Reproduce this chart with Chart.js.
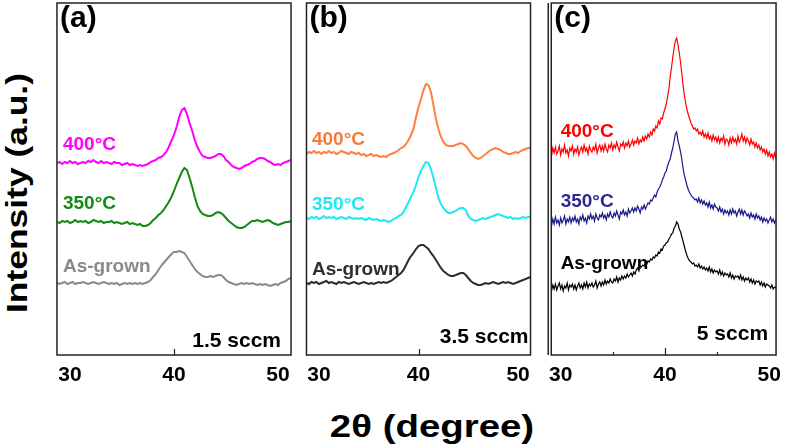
<!DOCTYPE html>
<html>
<head>
<meta charset="utf-8">
<script src="https://cdn.jsdelivr.net/npm/chart.js@4.4.0/dist/chart.umd.min.js"></script>
<style>
  body { margin: 0; width: 787px; height: 445px; overflow: hidden; position: relative; background: #fff;
         font-family: "Liberation Sans", Arial, sans-serif; }
  canvas { position: absolute; top: 0; }
  .title { position: absolute; font-weight: bold; white-space: nowrap; color: #000; }
  #ytitle { left: 17px; top: 193px; font-size: 30px; transform: translate(-50%, -50%) rotate(-90deg) scaleX(1.18); }
  #xtitle { left: 432px; top: 426px; font-size: 32px; transform: translate(-50%, -50%) scaleX(1.2); }
</style>
</head>
<body>
<canvas id="chartA"></canvas>
<canvas id="chartB"></canvas>
<canvas id="chartC"></canvas>
<div class="title" id="ytitle">Intensity (a.u.)</div>
<div class="title" id="xtitle">2θ (degree)</div>
<script>
// 2-theta angles (deg) for the (a) and (b) scans
const angles = [
  28.75,29,29.25,29.5,29.75,30,30.25,30.5,30.75,31,
  31.25,31.5,31.75,32,32.25,32.5,32.75,33,33.25,33.5,
  33.75,34,34.25,34.5,34.75,35,35.25,35.5,35.75,36,
  36.25,36.5,36.75,37,37.25,37.5,37.75,38,38.25,38.5,
  38.75,39,39.25,39.5,39.75,40,40.25,40.5,40.75,41,
  41.25,41.5,41.75,42,42.25,42.5,42.75,43,43.25,43.5,
  43.75,44,44.25,44.5,44.75,45,45.25,45.5,45.75,46,
  46.25,46.5,46.75,47,47.25,47.5,47.75,48,48.25,48.5,
  48.75,49,49.25,49.5,49.75,50,50.25,50.5,50.75,51,
  51.25,51.5
];

// (a) 1.5 sccm - stacked intensities (a.u.)
const a400 = [
  192,193,191,193,192,194,192,193,191,192,
  193,192,194,193,195,193,192,194,192,193,
  192,191,193,192,192,190,191,192,190,191,
  190,189,190,189,190,191,193,194,195,197,
  198,200,203,208,214,220,228,238,245,247,
  241,232,224,215,208,203,199,198,197,197,
  198,199,201,201,199,195,193,190,188,187,
  186,187,189,190,191,193,194,196,197,197,
  196,194,193,191,190,191,190,192,193,194,
  195,195
];
const a350 = [
  133,132,134,133,134,132,133,135,133,134,
  133,134,132,133,135,134,133,134,132,133,
  133,134,132,133,132,131,132,133,131,132,
  131,130,131,129,129,130,132,135,137,140,
  142,145,149,153,158,164,171,177,183,187,
  185,177,168,158,149,144,141,140,139,139,
  140,142,143,142,140,137,134,132,130,128,
  127,127,128,130,132,134,134,135,134,133,
  134,135,134,132,131,130,131,132,133,133,
  134,134
];
const aGrown = [
  72,71,72,73,71,72,73,71,72,72,
  73,72,71,72,73,72,71,72,73,72,
  71,72,71,72,70,71,72,71,72,71,
  72,71,72,71,72,73,75,78,81,85,
  89,92,95,98,101,103,103,104,103,102,
  98,94,90,86,83,81,79,78,78,79,
  78,79,80,80,78,75,73,72,71,70,
  71,72,71,72,71,72,71,70,71,70,
  71,70,69,70,71,70,72,73,74,76,
  77,77
];

// (b) 3.5 sccm
const b400 = [
  201,203,202,204,202,203,201,203,202,204,
  202,203,201,202,204,203,202,201,203,202,
  201,202,200,201,199,200,201,199,200,199,
  198,199,198,200,201,202,203,205,207,208,
  211,215,220,226,238,248,256,265,271,270,
  263,250,236,226,218,213,210,209,209,209,
  210,211,212,211,209,206,202,199,197,196,
  197,199,201,203,205,206,207,206,205,203,
  202,201,201,202,203,202,204,205,206,207,
  207,207
];
const b350 = [
  137,136,138,137,138,136,137,139,137,138,
  137,138,136,137,138,137,136,138,137,136,
  137,136,137,136,135,137,136,135,136,135,
  134,135,134,133,134,136,137,139,140,143,
  148,153,158,163,170,178,184,189,193,192,
  186,177,167,157,151,147,144,142,142,143,
  144,146,147,147,145,139,136,135,134,135,
  136,137,136,137,138,139,140,141,140,139,
  138,137,138,136,137,136,137,138,137,138,
  138,138
];
const bGrown = [
  72,71,73,72,73,71,72,73,74,72,
  73,72,71,73,72,73,72,71,72,73,
  72,71,72,73,72,71,72,71,72,73,
  72,73,72,73,74,76,78,80,82,85,
  90,95,99,102,106,109,110,110,108,106,
  102,99,95,91,87,84,82,80,79,79,
  80,81,82,82,80,77,74,72,71,70,
  70,71,72,71,72,73,72,71,72,73,
  72,73,72,71,72,73,74,75,76,77,
  78,78
];

// (c) 5 sccm - finer, noisier scan (one row per degree)
const cAngles = [
  29,29.125,29.25,29.375,29.5,29.625,29.75,29.875,
  30,30.125,30.25,30.375,30.5,30.625,30.75,30.875,
  31,31.125,31.25,31.375,31.5,31.625,31.75,31.875,
  32,32.125,32.25,32.375,32.5,32.625,32.75,32.875,
  33,33.125,33.25,33.375,33.5,33.625,33.75,33.875,
  34,34.125,34.25,34.375,34.5,34.625,34.75,34.875,
  35,35.125,35.25,35.375,35.5,35.625,35.75,35.875,
  36,36.125,36.25,36.375,36.5,36.625,36.75,36.875,
  37,37.125,37.25,37.375,37.5,37.625,37.75,37.875,
  38,38.125,38.25,38.375,38.5,38.625,38.75,38.875,
  39,39.125,39.25,39.375,39.5,39.625,39.75,39.875,
  40,40.125,40.25,40.375,40.5,40.625,40.75,40.875,
  41,41.125,41.25,41.375,41.5,41.625,41.75,41.875,
  42,42.125,42.25,42.375,42.5,42.625,42.75,42.875,
  43,43.125,43.25,43.375,43.5,43.625,43.75,43.875,
  44,44.125,44.25,44.375,44.5,44.625,44.75,44.875,
  45,45.125,45.25,45.375,45.5,45.625,45.75,45.875,
  46,46.125,46.25,46.375,46.5,46.625,46.75,46.875,
  47,47.125,47.25,47.375,47.5,47.625,47.75,47.875,
  48,48.125,48.25,48.375,48.5,48.625,48.75,48.875,
  49,49.125,49.25,49.375,49.5,49.625,49.75,49.875,
  50,50.125,50.25,50.375,50.5,50.625,50.75,50.875
];
const c400 = [
  205,199,207,202,208,201,204,209,
  200,206,203,210,202,205,199,207,
  204,209,201,206,203,208,200,205,
  208,203,210,204,207,201,209,205,
  203,208,205,211,202,207,210,204,
  209,204,211,206,203,210,207,212,
  205,210,207,213,208,204,211,209,
  213,207,212,209,214,208,211,215,
  210,214,212,217,211,215,213,218,
  214,219,216,221,218,223,220,226,
  224,229,227,234,231,237,236,242,
  246,251,258,266,278,287,298,307,
  314,317,310,302,292,281,268,259,
  251,245,240,236,232,229,226,227,
  224,226,221,223,220,224,218,221,
  217,222,216,219,214,220,215,218,
  213,218,212,217,214,219,211,216,
  215,210,217,212,218,213,216,211,
  219,213,216,221,214,218,212,217,
  214,210,216,211,213,208,212,207,
  210,205,208,203,206,201,205,199,
  203,198,201,196,202,197,200,199
];
const c350 = [
  134,129,136,131,138,132,135,130,
  137,132,135,139,131,136,133,138,
  132,137,134,139,133,136,131,138,
  135,140,134,137,132,139,136,141,
  136,139,134,141,137,135,140,138,
  142,137,140,135,141,138,143,139,
  137,142,139,144,140,136,143,141,
  145,140,143,139,146,142,144,147,
  143,147,144,149,146,142,148,146,
  150,146,149,152,151,155,154,157,
  160,158,163,166,168,171,175,178,
  182,184,189,193,196,202,207,214,
  221,223,214,209,203,195,186,179,
  174,169,165,162,160,158,157,155,
  156,153,157,152,155,151,154,150,
  152,148,153,147,150,146,151,148,
  147,144,148,143,146,141,145,142,
  144,140,145,141,146,142,144,139,
  143,146,141,145,140,144,142,139,
  141,137,142,138,140,136,141,137,
  139,135,138,133,137,134,136,132,
  135,138,133,136,132,135,134,133
];
const cGrown = [
  68,64,70,66,71,65,69,72,
  66,70,64,69,67,72,65,70,
  68,71,66,70,65,69,72,67,
  70,66,72,68,73,67,71,69,
  72,68,70,74,67,71,73,69,
  73,70,75,71,74,72,76,73,
  72,76,74,78,73,77,75,79,
  76,79,77,81,78,80,82,79,
  83,81,85,87,84,89,88,90,
  89,92,91,94,93,96,95,98,
  97,100,99,103,102,106,105,109,
  110,112,113,116,118,121,122,127,
  129,133,131,126,123,118,113,108,
  103,99,96,94,93,91,92,89,
  90,88,91,87,89,86,88,85,
  87,84,88,83,86,82,85,83,
  84,81,85,80,83,79,82,80,
  81,78,82,77,80,76,79,78,
  79,76,80,75,78,74,77,75,
  77,73,76,72,75,71,74,73,
  74,70,73,69,72,68,71,70,
  69,67,70,66,68,67,69,66
];

const tickValues = [30, 40, 50];
const seriesNames = ['400°C', '350°C', 'As-grown'];
const panelLetters = ['(a)', '(b)', '(c)'];
const flowLabels = ['1.5 sccm', '3.5 sccm', '5 sccm'];

const FONT = '"Liberation Sans", Arial, sans-serif';

const decor = {
  id: 'decor',
  afterDatasetsDraw(chart, args, o) {
    const { ctx, chartArea: a, scales: { x, y } } = chart;
    ctx.save();
    ctx.strokeStyle = '#222';
    ctx.lineWidth = 1.5;
    ctx.strokeRect(a.left, a.top, a.width, a.height);
    if (o.doubleLeft) {
      ctx.beginPath(); ctx.moveTo(a.left - 3, a.top); ctx.lineTo(a.left - 3, a.bottom); ctx.stroke();
    }
    // inner tick marks
    ctx.lineWidth = 1.2;
    o.marks.forEach(m => {
      const px = Math.round(x.getPixelForValue(m.v)) + 0.5;
      ctx.beginPath(); ctx.moveTo(px, a.bottom); ctx.lineTo(px, a.bottom - m.len); ctx.stroke();
    });
    // curve labels
    ctx.font = 'bold 19px ' + FONT;
    ctx.textBaseline = 'middle';
    ctx.textAlign = 'left';
    o.tags.forEach((t, i) => {
      ctx.fillStyle = o.tagColors[i];
      ctx.fillText(seriesNames[i], x.getPixelForValue(o.tagX), y.getPixelForValue(t));
    });
    ctx.fillStyle = '#000';
    ctx.textBaseline = 'alphabetic';
    ctx.font = 'bold 30px ' + FONT;
    ctx.fillText(panelLetters[o.idx], a.left + 3, a.top + 24);
    ctx.font = 'bold 21px ' + FONT;
    ctx.textAlign = 'right';
    ctx.fillText(flowLabels[o.idx], a.right - o.flowInset, a.bottom - o.flowLift);
    ctx.restore();
  }
};

function makePanel(id, idx, geom, xs, series, colors, widths, deco) {
  const PAD = 6;
  const cv = document.getElementById(id);
  cv.width = geom.right - geom.left + 2 * PAD;
  cv.height = 400;
  cv.style.left = (geom.left - PAD) + 'px';
  new Chart(cv, {
    type: 'line',
    data: {
      datasets: series.map((s, i) => ({
        label: seriesNames[i],
        data: xs.map((ang, k) => ({ x: ang, y: s[k] })),
        borderColor: colors[i],
        borderWidth: widths,
        pointRadius: 0,
        tension: 0,
        fill: false
      }))
    },
    options: {
      responsive: false,
      animation: false,
      devicePixelRatio: 1,
      layout: { padding: { left: PAD, right: PAD, top: 3, bottom: 0 } },
      plugins: { legend: { display: false }, tooltip: { enabled: false }, decor: Object.assign({ idx }, deco) },
      scales: {
        x: {
          type: 'linear',
          min: geom.min,
          max: geom.max,
          grid: { display: false, drawTicks: false },
          border: { display: false },
          afterBuildTicks: axis => { axis.ticks = tickValues.map(v => ({ value: v })); },
          afterFit: scale => { scale.height = 45; },
          ticks: {
            autoSkip: false,
            maxRotation: 0,
            padding: 8,
            color: '#000',
            font: { family: FONT, size: 21, weight: 'bold' }
          }
        },
        y: { display: false, min: 0, max: 352 }
      }
    },
    plugins: [decor]
  });
}

makePanel('chartA', 0, { left: 56, right: 292, min: 28.75, max: 51.25 }, angles,
  [a400, a350, aGrown], ['#ff00ff', '#138a13', '#8a8a8a'], 2,
  { marks: [{ v: 40, len: 6 }], tagX: 29.33, tags: [210, 151, 88],
    tagColors: ['#ff00ff', '#138a13', '#8a8a8a'], flowInset: 10, flowLift: 8 });

makePanel('chartB', 1, { left: 305, right: 532, min: 28.75, max: 51.25 }, angles,
  [b400, b350, bGrown], ['#ff7f45', '#1ee8f5', '#2e2e2e'], 2,
  { marks: [{ v: 40, len: 6 }], tagX: 29.3, tags: [215.5, 150, 85.5],
    tagColors: ['#f47a3c', '#1ee8f5', '#2e2e2e'], flowInset: 2, flowLift: 12 });

makePanel('chartC', 2, { left: 547, right: 783, min: 29.1, max: 50.65 }, cAngles,
  [c400, c350, cGrown], ['#ff0000', '#1a1a8a', '#000000'], 1.2,
  { marks: [{ v: 35, len: 3 }, { v: 40, len: 7 }, { v: 45, len: 3 }], tagX: 30.0, tags: [223.5, 153, 91],
    tagColors: ['#ff0000', '#2a2a90', '#000000'], flowInset: 8, flowLift: 15, doubleLeft: true });
</script>
</body>
</html>
